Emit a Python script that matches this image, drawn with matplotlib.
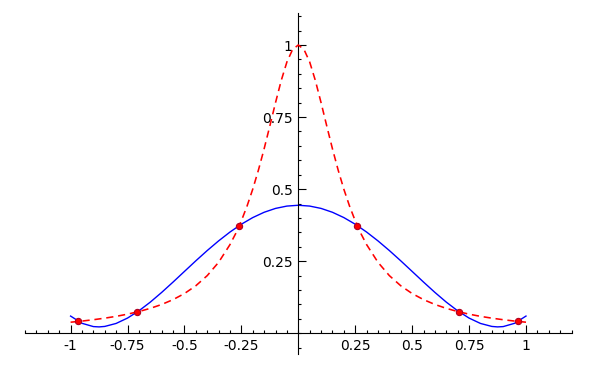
import matplotlib
matplotlib.use('Agg')
import matplotlib.pyplot as plt
from matplotlib.ticker import FixedLocator, FixedFormatter

# red dashed curve
x_red = [-1.0, -0.95, -0.9, -0.85, -0.8, -0.75, -0.7, -0.65, -0.6, -0.55, -0.5,
         -0.45, -0.4, -0.35, -0.3, -0.275, -0.25, -0.225, -0.2, -0.175, -0.15,
         -0.125, -0.1, -0.075, -0.05, -0.025, 0.0, 0.025, 0.05, 0.075, 0.1,
         0.125, 0.15, 0.175, 0.2, 0.225, 0.25, 0.275, 0.3, 0.35, 0.4, 0.45,
         0.5, 0.55, 0.6, 0.65, 0.7, 0.75, 0.8, 0.85, 0.9, 0.95, 1.0]
y_red = [0.0385, 0.0424, 0.0471, 0.0525, 0.0588, 0.0664, 0.0755, 0.0865, 0.1, 0.1168, 0.1379,
         0.1649, 0.2, 0.2462, 0.3077, 0.3459, 0.3902, 0.4414, 0.5, 0.5664, 0.64,
         0.7191, 0.8, 0.8767, 0.9412, 0.9846, 1.0, 0.9846, 0.9412, 0.8767, 0.8,
         0.7191, 0.64, 0.5664, 0.5, 0.4414, 0.3902, 0.3459, 0.3077, 0.2462, 0.2, 0.1649,
         0.1379, 0.1168, 0.1, 0.0865, 0.0755, 0.0664, 0.0588, 0.0525, 0.0471, 0.0424, 0.0385]

# blue solid curve
x_blue = [-1.0, -0.95, -0.9, -0.875, -0.85, -0.8, -0.75, -0.7, -0.65, -0.6, -0.55, -0.5,
          -0.45, -0.4, -0.35, -0.3, -0.25, -0.2, -0.15, -0.1, -0.05, 0.0,
          0.05, 0.1, 0.15, 0.2, 0.25, 0.3, 0.35, 0.4, 0.45, 0.5,
          0.55, 0.6, 0.65, 0.7, 0.75, 0.8, 0.85, 0.875, 0.9, 0.95, 1.0]
y_blue = [0.0598, 0.0347, 0.0233, 0.0222, 0.0238, 0.0342, 0.0528, 0.0780, 0.1081, 0.1418, 0.1777, 0.2146,
          0.2514, 0.2870, 0.3205, 0.3512, 0.3784, 0.4014, 0.4198, 0.4332, 0.4413, 0.4441,
          0.4413, 0.4332, 0.4198, 0.4014, 0.3784, 0.3512, 0.3205, 0.2870, 0.2514, 0.2146,
          0.1777, 0.1418, 0.1081, 0.0780, 0.0528, 0.0342, 0.0238, 0.0222, 0.0233, 0.0347, 0.0598]

# the six marked points
x_pts = [-0.9659, -0.7071, -0.2588, 0.2588, 0.7071, 0.9659]
y_pts = [0.0411, 0.0741, 0.3739, 0.3739, 0.0741, 0.0411]

x_ticks = [-1, -0.75, -0.5, -0.25, 0.25, 0.5, 0.75, 1]
x_labels = ['-1', '-0.75', '-0.5', '-0.25', '0.25', '0.5', '0.75', '1']
y_ticks = [0.25, 0.5, 0.75, 1]
y_labels = ['0.25', '0.5', '0.75', '1']

fig = plt.figure(figsize=(6, 3.7), dpi=100)
ax = fig.add_axes([0, 0, 1, 1])
ax.set_xlim(-1.310, 1.325)
ax.set_ylim(-0.1273, 1.1561)

ax.plot(x_blue, y_blue, color='#0000ff', lw=1.0, zorder=2)
ax.plot(x_red, y_red, color='#ff0000', lw=1.15, dashes=(4.5, 3), zorder=3)
ax.plot(x_pts, y_pts, 'o', color='#ff0000', markeredgecolor='#b00020',
        markeredgewidth=0.8, markersize=4.5, zorder=4)

for s in ['top', 'right']:
    ax.spines[s].set_visible(False)
ax.spines['left'].set_position(('data', 0))
ax.spines['bottom'].set_position(('data', 0))
ax.spines['left'].set_bounds(-0.072, 1.11)
ax.spines['bottom'].set_bounds(-1.2, 1.2)
for s in ['left', 'bottom']:
    ax.spines[s].set_linewidth(0.8)

ax.xaxis.set_major_locator(FixedLocator(x_ticks))
ax.xaxis.set_major_formatter(FixedFormatter(x_labels))
ax.xaxis.set_minor_locator(FixedLocator([i * 0.05 for i in range(-24, 25)]))
ax.yaxis.set_major_locator(FixedLocator(y_ticks))
ax.yaxis.set_major_formatter(FixedFormatter(y_labels))
ax.yaxis.set_minor_locator(FixedLocator([i * 0.05 for i in range(-1, 23)]))

ax.tick_params(which='both', direction='in', width=0.8, labelsize=10, color='black')
ax.tick_params(which='major', length=5.5, pad=4)
ax.tick_params(which='minor', length=2.5)

fig.savefig('out.png', dpi=100)
